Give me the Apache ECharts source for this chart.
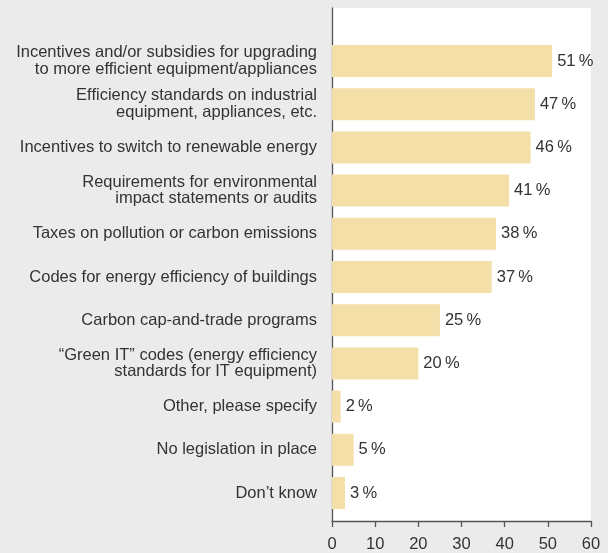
<!DOCTYPE html>
<html>
<head>
<meta charset="utf-8">
<script src="https://cdn.jsdelivr.net/npm/echarts@6/dist/echarts.min.js"></script>
<style>
  html, body { margin: 0; padding: 0; background: #ebebeb; }
  #chart { width: 608px; height: 553px; }
</style>
</head>
<body>
<div id="chart"></div>
<script>
// Legislation / policy measures in place (share of respondents, %)
const categories = [
  'Incentives and/or subsidies for upgrading\nto more efficient equipment/appliances',
  'Efficiency standards on industrial\nequipment, appliances, etc.',
  'Incentives to switch to renewable energy',
  'Requirements for environmental\nimpact statements or audits',
  'Taxes on pollution or carbon emissions',
  'Codes for energy efficiency of buildings',
  'Carbon cap-and-trade programs',
  '\u201CGreen IT\u201D codes (energy efficiency\nstandards for IT equipment)',
  'Other, please specify',
  'No legislation in place',
  'Don\u2019t know'
];
const shares = [51, 47, 46, 41, 38, 37, 25, 20, 2, 5, 3];
const xTicks = [0, 10, 20, 30, 40, 50, 60];

const FONT = '"Liberation Sans", Arial, Helvetica, sans-serif';
const TEXT = '#333333';
const AXIS = '#555555';

const chart = echarts.init(document.getElementById('chart'), null, { renderer: 'canvas' });

chart.setOption({
  backgroundColor: '#ebebeb',
  animation: false,
  textStyle: { fontFamily: FONT },
  grid: [
    // white plotting panel with the axes
    { left: 332, top: 8, width: 259, height: 518, show: true,
      backgroundColor: '#ffffff', borderWidth: 0 },
    // bar area
    { left: 332, top: 39.4, width: 259, height: 475.2 }
  ],
  xAxis: [
    {
      gridIndex: 0, type: 'value',
      min: xTicks[0], max: xTicks[xTicks.length - 1], interval: 10,
      axisLine: { show: true, onZero: false, lineStyle: { color: AXIS, width: 1.3 } },
      axisTick: { show: true, length: 6, lineStyle: { color: AXIS, width: 1.3 } },
      axisLabel: { color: TEXT, fontSize: 16.5, margin: 15, fontFamily: FONT },
      splitLine: { show: false }
    },
    {
      gridIndex: 1, type: 'value',
      min: xTicks[0], max: xTicks[xTicks.length - 1],
      show: false
    }
  ],
  yAxis: [
    {
      gridIndex: 0, type: 'value', min: 0, max: 1,
      axisLine: { show: true, onZero: false, lineStyle: { color: AXIS, width: 1.3 } },
      axisTick: { show: false },
      axisLabel: { show: false },
      splitLine: { show: false }
    },
    {
      gridIndex: 1, type: 'category', inverse: true,
      data: categories,
      axisLine: { show: false },
      axisTick: { show: false },
      axisLabel: {
        color: TEXT, fontSize: 16.5, lineHeight: 16.5, margin: 15,
        align: 'right', fontFamily: FONT
      }
    }
  ],
  series: [
    {
      type: 'bar',
      xAxisIndex: 1, yAxisIndex: 1,
      data: shares,
      barCategoryGap: '26%',
      itemStyle: { color: '#f3dfa7' },
      label: {
        show: true, position: 'right', distance: 5,
        formatter: p => p.value + '\u2009%',
        color: TEXT, fontSize: 16.5, fontFamily: FONT
      }
    }
  ]
});
</script>
</body>
</html>
